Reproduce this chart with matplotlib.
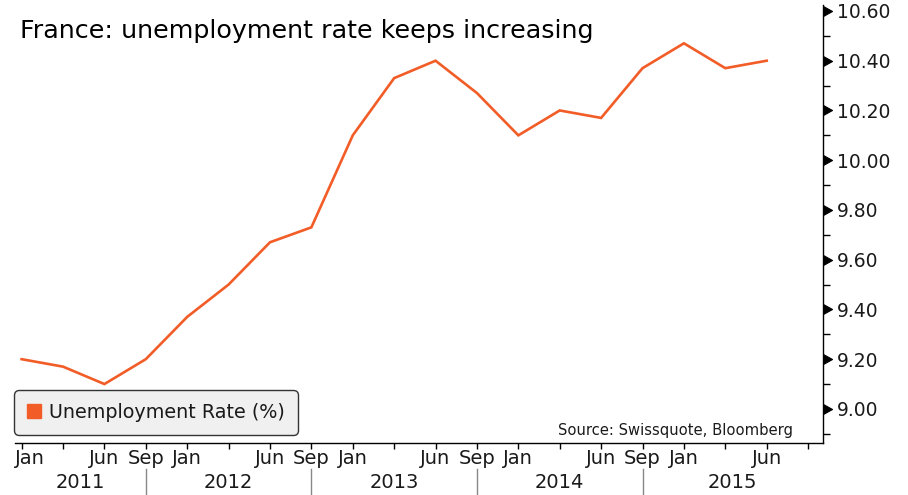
import matplotlib
matplotlib.use("Agg")
import matplotlib.pyplot as plt
from matplotlib.patches import Patch
from matplotlib.markers import MarkerStyle
import matplotlib.transforms as mtransforms
import numpy as np

# ---- data (quarterly, Dec 2010 .. Jun 2015) ----
rate = [9.20, 9.17, 9.10, 9.20, 9.37, 9.50, 9.67, 9.73, 10.10, 10.33,
        10.40, 10.27, 10.10, 10.20, 10.17, 10.37, 10.47, 10.37, 10.40]
month_labels = ["Jan", "", "Jun", "Sep"] * 4 + ["Jan", "", "Jun"]
years = ["2011", "2012", "2013", "2014", "2015"]
yticks = [9.0, 9.2, 9.4, 9.6, 9.8, 10.0, 10.2, 10.4, 10.6]

ORANGE = "#F25C27"
TXT = "#1a1a1a"
W, H = 908, 495
fig = plt.figure(figsize=(W / 100, H / 100), dpi=100)
plt.rcParams['font.family'] = ['DejaVu Sans']

left, right, top, bottom = 15, 823, 5, 443
ax = fig.add_axes([left / W, (H - bottom) / H, (right - left) / W, (bottom - top) / H])

x = np.arange(len(rate))
ax.plot(x, rate, color=ORANGE, lw=1.9, solid_joinstyle='miter')

ax.set_xlim(-0.16, 19.36)
ax.set_ylim(8.863, 10.624)

for s in ["left", "top"]:
    ax.spines[s].set_visible(False)
for s in ["right", "bottom"]:
    ax.spines[s].set_color("black")
    ax.spines[s].set_linewidth(1.0)

# y axis on right
ax.yaxis.tick_right()
ax.set_yticks(yticks)
ax.set_yticklabels([f"{v:.2f}" for v in yticks], fontsize=13.5, color=TXT)
ax.set_yticks(np.arange(8.9, 10.65, 0.2), minor=True)
ax.tick_params(axis='y', which='minor', right=True, length=5, width=1, direction='out')
ax.tick_params(axis='y', which='major', length=0, pad=10)
tri = MarkerStyle([(0, -1), (1.8, 0), (0, 1)])
for t in ax.yaxis.get_major_ticks():
    t.tick2line.set_marker(tri)
    t.tick2line.set_markersize(13)
    t.tick2line.set_markerfacecolor("black")
    t.tick2line.set_markeredgecolor("black")

# x axis
ax.set_xticks(np.arange(0, 20))
ax.set_xticklabels([])
ax.tick_params(axis='x', which='major', length=4, width=1, direction='out', color='black')

trans = mtransforms.blended_transform_factory(ax.transData, fig.transFigure)
for i, lab in enumerate(month_labels):
    if not lab:
        continue
    if i == 0:
        ax.text(-0.16, (H - 458) / H, lab, transform=trans, ha='left', va='center',
                fontsize=14, color=TXT)
    else:
        ax.text(i, (H - 458) / H, lab, transform=trans, ha='center', va='center',
                fontsize=14, color=TXT)

# year separators and labels
seps = [3, 7, 11, 15]
bounds = [-0.16] + seps + [19.36]
for s in seps:
    ax.plot([s, s], [(H - 469) / H, 0], transform=trans, color='#888888', lw=1, clip_on=False)
for k, yr in enumerate(years):
    ax.text((bounds[k] + bounds[k + 1]) / 2, (H - 482) / H, yr, transform=trans,
            ha='center', va='center', fontsize=14, color=TXT)

# title
fig.text(20 / W, (H - 31) / H, "France: unemployment rate keeps increasing",
         fontsize=18.3, ha='left', va='center', color='black')

# source
fig.text(793 / W, (H - 430) / H, "Source: Swissquote, Bloomberg",
         fontsize=10.6, ha='right', va='center', color=TXT)

# legend
handle = Patch(facecolor=ORANGE, edgecolor=ORANGE)
leg = ax.legend([handle], ["Unemployment Rate (%)"], loc='lower left',
                bbox_to_anchor=(14 / W, (H - 435) / H), bbox_transform=fig.transFigure,
                borderaxespad=0, fontsize=13.8, fancybox=True, framealpha=1,
                handlelength=0.75, handleheight=0.75, handletextpad=0.4,
                borderpad=0.68)
for t in leg.get_texts():
    t.set_color(TXT)
fr = leg.get_frame()
fr.set_facecolor('#F0F0F0')
fr.set_edgecolor('#333333')
fr.set_linewidth(1.0)
fr.set_boxstyle('round,pad=0,rounding_size=0.25')

fig.savefig("out.png", dpi=100)
